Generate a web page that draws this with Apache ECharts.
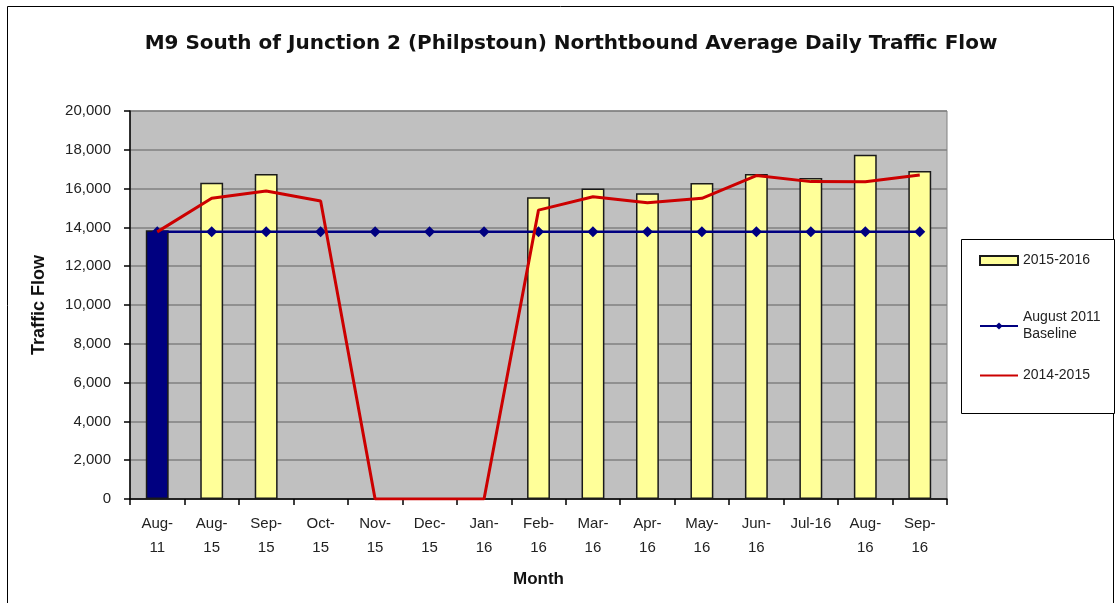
<!DOCTYPE html>
<html>
<head>
<meta charset="utf-8">
<script src="https://cdn.jsdelivr.net/npm/echarts@6/dist/echarts.min.js"></script>
<style>
  html, body { margin: 0; padding: 0; background: #fff; }
  #chart { width: 1119px; height: 603px; }
</style>
</head>
<body>
<div id="chart"></div>
<script>
// 月份类别和显示用的刻度标签
const months = ['Aug-11', 'Aug-15', 'Sep-15', 'Oct-15', 'Nov-15', 'Dec-15', 'Jan-16', 'Feb-16',
  'Mar-16', 'Apr-16', 'May-16', 'Jun-16', 'Jul-16', 'Aug-16', 'Sep-16']
const monthLabels = ['Aug-\n11', 'Aug-\n15', 'Sep-\n15', 'Oct-\n15', 'Nov-\n15', 'Dec-\n15', 'Jan-\n16', 'Feb-\n16',
  'Mar-\n16', 'Apr-\n16', 'May-\n16', 'Jun-\n16', 'Jul-16', 'Aug-\n16', 'Sep-\n16']

// 2015-2016 柱状（第一个是 2011 年基准月）
const flow1516 = [13850, 16300, 16750, null, null, null, null, 15550, 16000, 15760, 16290, 16750, 16550, 17740, 16910]
// 2011 年 8 月基准线
const baseline2011 = [13770, 13770, 13770, 13770, 13770, 13770, 13770, 13770, 13770, 13770, 13770, 13770, 13770, 13770, 13770]
// 2014-2015 折线
const flow1415 = [13770, 15500, 15880, 15360, 0, 0, 0, 14890, 15580, 15270, 15500, 16670, 16360, 16350, 16700]

const chart = echarts.init(document.getElementById('chart'))

const font = 'Arial, "Liberation Sans", sans-serif'

// 图例每一项单独放，方便对齐
const legendBase = {
  orient: 'vertical',
  left: 974,
  itemWidth: 38,
  itemHeight: 9,
  textStyle: { fontSize: 14, color: '#222', fontFamily: font, lineHeight: 17 },
  z: 5,
}

chart.setOption({
  animation: false,
  backgroundColor: '#fff',
  textStyle: { fontFamily: font },
  title: {
    text: 'M9 South of Junction 2 (Philpstoun) Northtbound Average Daily Traffic Flow',
    left: 566,
    top: 29,
    textAlign: 'center',
    textStyle: { fontSize: 20, fontWeight: 'bold', color: '#111', fontFamily: '"DejaVu Sans", sans-serif' },
  },
  // 外边框和图例框
  graphic: [
    {
      type: 'rect',
      shape: { x: 7.5, y: 6.5, width: 1106, height: 610 },
      style: { fill: 'none', stroke: '#000', lineWidth: 1 },
      silent: true,
    },
    {
      type: 'rect',
      shape: { x: 961.5, y: 239.5, width: 153, height: 174 },
      style: { fill: '#fff', stroke: '#000', lineWidth: 1 },
      silent: true,
      z: 0,
    },
  ],
  legend: [
    {
      ...legendBase,
      top: 247,
      data: [{ name: '2015-2016', icon: 'rect' }],
    },
    {
      ...legendBase,
      top: 304,
      data: [{ name: 'August 2011\nBaseline' }],
    },
    {
      ...legendBase,
      top: 362,
      data: [{ name: '2014-2015', itemStyle: { opacity: 0 } }],
    },
  ],
  grid: {
    left: 130,
    right: 172,
    top: 111,
    bottom: 104,
    show: true,
    backgroundColor: '#c0c0c0',
    borderColor: '#808080',
    borderWidth: 1,
  },
  xAxis: {
    type: 'category',
    data: months,
    name: 'Month',
    nameLocation: 'middle',
    nameGap: 72,
    nameTextStyle: { fontSize: 17, fontWeight: 'bold', color: '#111' },
    axisLine: { lineStyle: { color: '#000', width: 1.5 } },
    axisTick: { show: true, alignWithLabel: false, length: 6, lineStyle: { color: '#000', width: 1.5 } },
    axisLabel: {
      interval: 0,
      fontSize: 15,
      color: '#222',
      lineHeight: 24,
      margin: 13,
      formatter: (value, index) => monthLabels[index],
    },
  },
  yAxis: {
    type: 'value',
    min: 0,
    max: 20000,
    interval: 2000,
    name: 'Traffic Flow',
    nameLocation: 'middle',
    nameGap: 82,
    nameRotate: 90,
    nameTextStyle: { fontSize: 18, fontWeight: 'bold', color: '#111' },
    axisLine: { show: true, lineStyle: { color: '#000', width: 1.5 } },
    axisTick: { show: true, length: 6, lineStyle: { color: '#000', width: 1.5 } },
    axisLabel: {
      fontSize: 15,
      color: '#222',
      margin: 19,
      formatter: (value) => value.toLocaleString('en-US'),
    },
    splitLine: { show: true, lineStyle: { color: '#808080', width: 1.5 } },
  },
  series: [
    {
      name: '2015-2016',
      type: 'bar',
      barWidth: '42%',
      data: flow1516.map((v, i) => (i === 0
        ? { value: v, itemStyle: { color: '#000080' } }
        : v)),
      itemStyle: { color: '#ffff99', borderColor: '#1a1a1a', borderWidth: 1.5 },
      z: 2,
    },
    {
      name: 'August 2011\nBaseline',
      type: 'line',
      data: baseline2011,
      symbol: 'diamond',
      symbolSize: 11,
      lineStyle: { color: '#000080', width: 2.5 },
      itemStyle: { color: '#000080' },
      z: 3,
    },
    {
      name: '2014-2015',
      type: 'line',
      data: flow1415,
      showSymbol: false,
      symbol: 'none',
      lineStyle: { color: '#cc0000', width: 3 },
      itemStyle: { color: '#cc0000' },
      z: 4,
    },
  ],
})
</script>
</body>
</html>
